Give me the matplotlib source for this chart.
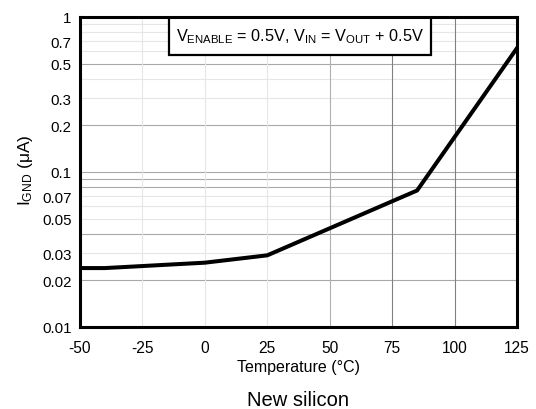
import matplotlib
matplotlib.use("Agg")
import matplotlib.pyplot as plt
from matplotlib.patches import Rectangle
import numpy as np

# Data
temperature = [-50, -40, 0, 25, 85, 125]
i_gnd = [0.024, 0.024, 0.026, 0.029, 0.076, 0.63]
x_ticks = [-50, -25, 0, 25, 50, 75, 100, 125]
y_ticks = [0.01, 0.02, 0.03, 0.05, 0.07, 0.1, 0.2, 0.3, 0.5, 0.7, 1]
y_tick_labels = ["0.01", "0.02", "0.03", "0.05", "0.07", "0.1", "0.2", "0.3", "0.5", "0.7", "1"]
faint_h = [0.03, 0.05, 0.06, 0.07, 0.3, 0.4, 0.6, 0.7, 0.8, 0.9]
mid_h = [0.02, 0.04, 0.08, 0.09, 0.1, 0.2, 0.5]
faint_v = [-25, 0, 25]
mid_v = [50]
dark_v = [75, 100]

plt.rcParams['font.family'] = ['Liberation Sans', 'DejaVu Sans']
plt.rcParams['mathtext.fontset'] = 'custom'
plt.rcParams['mathtext.rm'] = 'Liberation Sans'
plt.rcParams['mathtext.it'] = 'Liberation Sans:italic'
plt.rcParams['mathtext.default'] = 'regular'

fig = plt.figure(figsize=(5.36, 4.10), dpi=100)
ax = fig.add_axes([80/536, 1-328/410, 437/536, 310/410])

ax.set_yscale('log')
ax.set_xlim(-50, 125)
ax.set_ylim(0.01, 1)

for v in faint_h:
    ax.axhline(v, color='#e6e6e6', lw=0.8, zorder=1)
for v in mid_h:
    ax.axhline(v, color='#a8a8a8', lw=0.8, zorder=1)
for v in faint_v:
    ax.axvline(v, color='#e6e6e6', lw=0.8, zorder=1)
for v in mid_v:
    ax.axvline(v, color='#b0b0b0', lw=0.8, zorder=1)
for v in dark_v:
    ax.axvline(v, color='#808080', lw=0.8, zorder=1)

ax.plot(temperature, i_gnd, color='black', lw=2.9, solid_joinstyle='miter', zorder=3)

ax.set_xticks(x_ticks)
ax.set_xticklabels([str(t) for t in x_ticks])
ax.set_yticks(y_ticks)
ax.set_yticklabels(y_tick_labels)
ax.yaxis.set_minor_locator(matplotlib.ticker.NullLocator())
ax.tick_params(axis='both', length=0)
ax.tick_params(axis='x', pad=9.5, labelsize=11.2)
ax.tick_params(axis='y', pad=6, labelsize=10.8)

for s in ax.spines.values():
    s.set_linewidth(2.2)
    s.set_zorder(5)

ax.set_xlabel('Temperature (°C)', fontsize=11.5, labelpad=2.5)
ax.set_ylabel('I$_{GND}$ (μA)', fontsize=12.5, labelpad=5, y=0.51)

# annotation box
x0, x1 = (169-80)/437, (431-80)/437
y0 = 1 - 38/310
ax.add_patch(Rectangle((x0, y0), x1-x0, 1-y0, transform=ax.transAxes,
                       facecolor='white', edgecolor='black', lw=1.6, zorder=4))
ax.text((x0+x1)/2, (y0+1)/2, 'V$_{ENABLE}$ = 0.5V, V$_{IN}$ = V$_{OUT}$ + 0.5V',
        transform=ax.transAxes, ha='center', va='center', fontsize=11.7, zorder=6)

fig.text(298/536, 1-401/410, 'New silicon', ha='center', va='center', fontsize=14.5)

fig.savefig('out.png', dpi=100)
